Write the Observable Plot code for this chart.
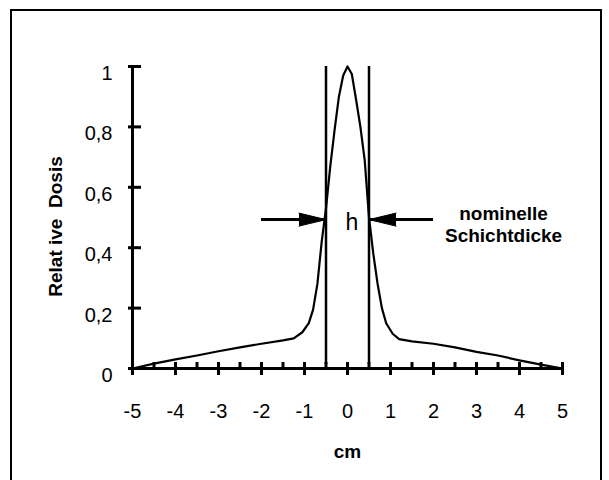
<!DOCTYPE html>
<html>
<head>
<meta charset="utf-8">
<script src="https://cdn.jsdelivr.net/npm/d3@7"></script>
<script src="https://cdn.jsdelivr.net/npm/@observablehq/plot@0.6"></script>
<style>
  html, body { margin: 0; padding: 0; background: #fff; }
  #wrap { position: relative; width: 609px; height: 480px; overflow: hidden; }
  #frame { position: absolute; left: 10px; top: 9px; width: 592px; height: 520px;
           border: 2px solid #000; box-sizing: border-box; }
  #chart { position: absolute; left: 0; top: 0; }
</style>
</head>
<body>
<div id="wrap"><div id="frame"></div><div id="chart"></div></div>
<script>
// Dose profile (cm vs relative dose)
const posCm = [-5, -4.5, -4, -3.5, -3, -2.5, -2, -1.5, -1.25, -1.05, -0.9, -0.8, -0.7, -0.6, -0.5, -0.4, -0.3, -0.2, -0.1, 0,
               0.1, 0.2, 0.3, 0.4, 0.5, 0.6, 0.7, 0.8, 0.9, 1.05, 1.2, 1.5, 2, 2.5, 3, 3.5, 4, 4.5, 5];
const relDose = [0, 0.016, 0.03, 0.043, 0.057, 0.07, 0.082, 0.093, 0.1, 0.12, 0.15, 0.195, 0.28, 0.42, 0.53, 0.67, 0.79, 0.9, 0.97, 1.0,
                 0.975, 0.89, 0.8, 0.69, 0.5, 0.38, 0.28, 0.2, 0.15, 0.115, 0.097, 0.09, 0.082, 0.07, 0.055, 0.043, 0.027, 0.013, 0];

const xMajor = [-5, -4, -3, -2, -1, 0, 1, 2, 3, 4, 5];
const xMinor = [-4.5, -3.5, -2.5, -1.5, -0.5, 0.5, 1.5, 2.5, 3.5, 4.5];
const yTicks = [0, 0.2, 0.4, 0.6, 0.8, 1];

const edges = [-0.5, 0.5];          // nominal slice thickness limits
const arrowLevel = 0.493;           // half maximum level
const arrowStarts = [-2, 2];
const hLabel = "h";
const noteText = "nominelle\nSchichtdicke";
const notePos = [3.63, 0.478];
const xTitle = "cm";
const yTitle = "Relat ive  Dosis";

const profile = posCm.map((x, i) => ({x, y: relDose[i]}));
const arrows = arrowStarts.map((s, i) => ({x1: s, x2: edges[i], y: arrowLevel, rot: s < 0 ? 90 : -90}));
const fmt = d => String(d).replace(".", ",");
const font = "'Liberation Sans', Arial, Helvetica, sans-serif";

const plot = Plot.plot({
  width: 609,
  height: 480,
  marginLeft: 132,
  marginRight: 47,
  marginTop: 66,
  marginBottom: 112,
  style: {fontFamily: font, background: "transparent", color: "#000"},
  x: {domain: [-5, 5]},
  y: {domain: [0, 1]},
  marks: [
    // tick labels
    Plot.axisX(xMajor, {tickSize: 0, tickPadding: 35, tickFormat: d => String(d), fontSize: 20, label: null}),
    Plot.axisY(yTicks, {tickSize: 0, tickPadding: 20, tickFormat: fmt, fontSize: 20, dy: 7, label: null}),
    // axis lines
    Plot.ruleY([0], {x1: -5, x2: 5, strokeWidth: 3}),
    Plot.ruleX([-5], {y1: 0, y2: 1, strokeWidth: 3}),
    // x ticks
    Plot.ruleX(xMajor, {x: d => d, y1: 0, y2: 0, insetTop: -6, insetBottom: -7, strokeWidth: 3}),
    Plot.ruleX(xMinor, {x: d => d, y1: 0, y2: 0, insetTop: -6, insetBottom: 0, strokeWidth: 3}),
    // y ticks
    Plot.ruleY(yTicks, {y: d => d, x1: -5, x2: -5, insetLeft: -4, insetRight: -9, strokeWidth: 3}),
    // slice edges
    Plot.ruleX(edges, {x: d => d, y1: 0, y2: 1, insetTop: -4, strokeWidth: 2.5}),
    // profile
    Plot.line(profile, {x: "x", y: "y", strokeWidth: 2.2, curve: "linear"}),
    // arrows
    Plot.ruleY(arrows, {y: "y", x1: "x1", x2: "x2", strokeWidth: 3}),
    Plot.vector(arrows, {x: "x2", y: "y", rotate: "rot", anchor: "end", shape: "spike", length: 27, r: 6.5,
                          fill: "#000", fillOpacity: 1, stroke: "#000", strokeWidth: 1}),
    // annotations
    Plot.text([hLabel], {x: 0.1, y: arrowLevel, text: d => d, fontSize: 23, dy: 3}),
    Plot.text([noteText], {x: notePos[0], y: notePos[1], text: d => d, fontSize: 19, fontWeight: "bold", lineHeight: 1.15}),
    Plot.text([xTitle], {frameAnchor: "bottom", text: d => d, dy: 83, fontSize: 19, fontWeight: "bold", textAnchor: "middle", lineAnchor: "middle"}),
    Plot.text([yTitle], {frameAnchor: "left", text: d => d.replace(/  /g, " \u00a0"), rotate: -90, dx: -77, dy: 9,
                         textAnchor: "middle", lineAnchor: "middle", fontSize: 19, fontWeight: "bold"})
  ]
});
document.getElementById("chart").appendChild(plot);
</script>
</body>
</html>
